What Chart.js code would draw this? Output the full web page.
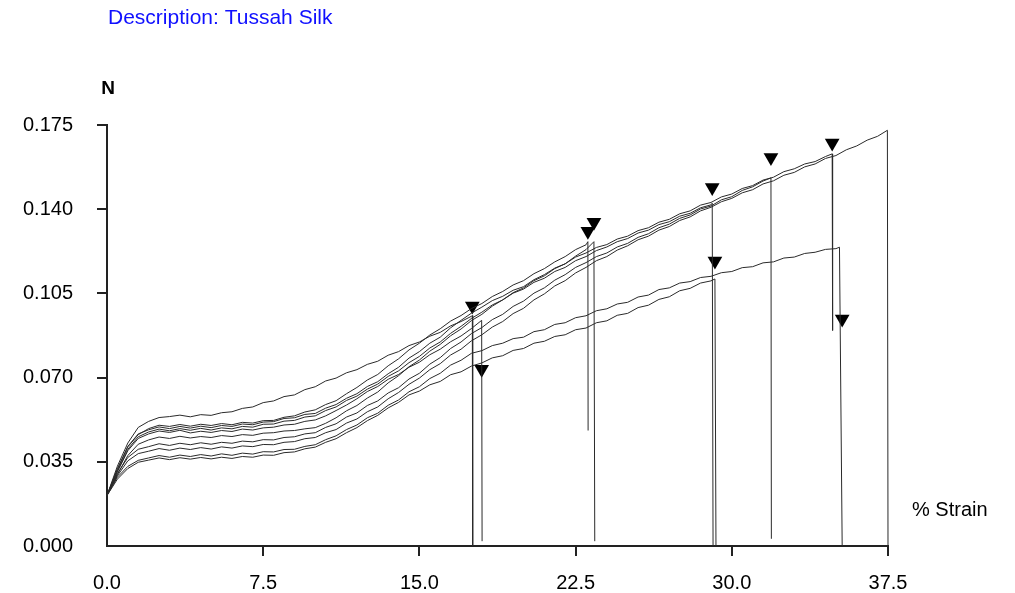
<!DOCTYPE html>
<html><head><meta charset="utf-8">
<script src="https://cdn.jsdelivr.net/npm/chart.js@4/dist/chart.umd.min.js"></script>
<style>html,body{margin:0;padding:0;background:#fff;}#wrap{width:1015px;height:593px;position:relative;}</style>
</head><body><div id="wrap"><canvas id="c" width="1015" height="593"></canvas></div>
<script>
const chartTitle = "Description: Tussah Silk";
const yAxisTitle = "N";
const xAxisTitle = "% Strain";
const xTicks = [0, 7.5, 15, 22.5, 30, 37.5];
const yTicks = [0, 0.035, 0.07, 0.105, 0.14, 0.175];
const gridStep = 0.5; // strain spacing of the sampled readings below

const specimenA = [0.0210,0.0332,0.0428,0.0493,0.0518,0.0534,0.0538,0.0544,0.0537,0.0546,0.0543,0.0554,0.0558,0.0572,0.0578,0.0596,0.0603,0.0621,0.0628,0.0650,0.0662,0.0686,0.0698,0.0720,0.0733,0.0755,0.0768,0.0793,0.0808,0.0833,0.0848,0.0872,0.0888,0.0915,0.0933,0.0955];
const specimenB = [0.0210,0.0308,0.0396,0.0447,0.0466,0.0478,0.0472,0.0481,0.0470,0.0477,0.0472,0.0480,0.0476,0.0486,0.0482,0.0491,0.0494,0.0503,0.0506,0.0518,0.0524,0.0541,0.0563,0.0586,0.0612,0.0642,0.0663,0.0693,0.0713,0.0743,0.0764,0.0795,0.0818,0.0849,0.0873,0.0904];
const specimenC = [0.0210,0.0322,0.0412,0.0463,0.0488,0.0502,0.0497,0.0505,0.0498,0.0506,0.0501,0.0509,0.0504,0.0514,0.0511,0.0521,0.0522,0.0535,0.0541,0.0557,0.0566,0.0588,0.0604,0.0633,0.0659,0.0690,0.0713,0.0749,0.0778,0.0815,0.0843,0.0877,0.0903,0.0935,0.0958,0.0987,0.1008,0.1037,0.1058,0.1085,0.1103,0.1132,0.1153,0.1181,0.1203,0.1232,0.1252];
const specimenD = [0.0210,0.0297,0.0376,0.0423,0.0441,0.0453,0.0447,0.0456,0.0449,0.0455,0.0451,0.0459,0.0455,0.0463,0.0460,0.0469,0.0471,0.0478,0.0480,0.0487,0.0492,0.0510,0.0533,0.0562,0.0584,0.0615,0.0640,0.0678,0.0708,0.0745,0.0773,0.0810,0.0838,0.0874,0.0902,0.0937,0.0963,0.0997,0.1023,0.1053,0.1073,0.1103,0.1123,0.1153,0.1173,0.1205,0.1232];
const specimenE = [0.0210,0.0312,0.0402,0.0454,0.0474,0.0486,0.0479,0.0488,0.0481,0.0489,0.0482,0.0491,0.0487,0.0497,0.0494,0.0506,0.0507,0.0519,0.0522,0.0536,0.0541,0.0563,0.0578,0.0605,0.0623,0.0652,0.0673,0.0705,0.0728,0.0762,0.0788,0.0823,0.0848,0.0884,0.0913,0.0946,0.0972,0.1002,0.1023,0.1051,0.1068,0.1096,0.1113,0.1141,0.1158,0.1186,0.1203,0.1228,0.1243,0.1265,0.1278,0.1301,0.1313,0.1336,0.1348,0.1371,0.1383,0.1406,0.1418];
const specimenF = [0.0210,0.0278,0.0322,0.0348,0.0357,0.0366,0.0359,0.0367,0.0361,0.0368,0.0362,0.0369,0.0364,0.0372,0.0369,0.0378,0.0377,0.0388,0.0391,0.0404,0.0411,0.0431,0.0446,0.0471,0.0492,0.0521,0.0543,0.0574,0.0597,0.0628,0.0644,0.0670,0.0684,0.0712,0.0724,0.0748,0.0761,0.0782,0.0791,0.0813,0.0821,0.0843,0.0851,0.0871,0.0878,0.0899,0.0906,0.0928,0.0936,0.0959,0.0967,0.0991,0.1001,0.1025,0.1036,0.1061,0.1071,0.1093,0.1102];
const specimenG = [0.0210,0.0301,0.0368,0.0402,0.0413,0.0425,0.0418,0.0427,0.0421,0.0429,0.0423,0.0431,0.0427,0.0436,0.0433,0.0442,0.0441,0.0451,0.0454,0.0466,0.0471,0.0493,0.0508,0.0536,0.0553,0.0584,0.0603,0.0636,0.0658,0.0694,0.0718,0.0756,0.0783,0.0821,0.0848,0.0883,0.0908,0.0941,0.0963,0.0996,0.1018,0.1051,0.1073,0.1105,0.1128,0.1158,0.1178,0.1203,0.1218,0.1243,0.1258,0.1283,0.1298,0.1323,0.1338,0.1362,0.1376,0.1401,0.1413,0.1439,0.1452,0.1478,0.1493,0.1517];
const specimenH = [0.0210,0.0318,0.0414,0.0466,0.0483,0.0495,0.0488,0.0497,0.0490,0.0498,0.0492,0.0501,0.0497,0.0507,0.0504,0.0515,0.0517,0.0530,0.0533,0.0547,0.0551,0.0573,0.0588,0.0614,0.0633,0.0663,0.0683,0.0716,0.0743,0.0781,0.0808,0.0843,0.0868,0.0907,0.0938,0.0968,0.0993,0.1020,0.1038,0.1063,0.1078,0.1107,0.1128,0.1155,0.1173,0.1201,0.1218,0.1241,0.1253,0.1276,0.1288,0.1311,0.1323,0.1346,0.1358,0.1381,0.1393,0.1417,0.1428,0.1451,0.1463,0.1486,0.1498,0.1521,0.1533,0.1556,0.1568,0.1588,0.1598,0.1619];
const specimenI = [0.0210,0.0286,0.0331,0.0356,0.0366,0.0376,0.0369,0.0378,0.0372,0.0380,0.0374,0.0383,0.0377,0.0386,0.0382,0.0392,0.0391,0.0401,0.0402,0.0414,0.0421,0.0442,0.0458,0.0484,0.0503,0.0533,0.0552,0.0585,0.0607,0.0641,0.0662,0.0696,0.0718,0.0752,0.0772,0.0801,0.0812,0.0833,0.0843,0.0862,0.0868,0.0891,0.0899,0.0921,0.0928,0.0949,0.0957,0.0978,0.0986,0.1006,0.1013,0.1035,0.1043,0.1066,0.1073,0.1093,0.1099,0.1116,0.1121,0.1136,0.1141,0.1157,0.1161,0.1177,0.1181,0.1197,0.1201,0.1216,0.1221,0.1233,0.1236];
const specimenJ = [0.0210,0.0292,0.0354,0.0384,0.0394,0.0405,0.0398,0.0407,0.0401,0.0409,0.0403,0.0412,0.0407,0.0416,0.0413,0.0422,0.0421,0.0431,0.0434,0.0446,0.0451,0.0471,0.0484,0.0511,0.0528,0.0558,0.0578,0.0612,0.0638,0.0672,0.0698,0.0733,0.0758,0.0794,0.0818,0.0853,0.0878,0.0910,0.0933,0.0966,0.0988,0.1023,0.1048,0.1081,0.1103,0.1135,0.1158,0.1186,0.1203,0.1230,0.1248,0.1273,0.1288,0.1313,0.1328,0.1353,0.1368,0.1393,0.1408,0.1431,0.1445,0.1468,0.1481,0.1505,0.1518,0.1541,0.1553,0.1576,0.1588,0.1611,0.1623,0.1647,0.1663,0.1687,0.1703];

// break (failure) point of each specimen, and where the trace falls to afterwards
const breakStrain = [17.54, 17.99, 23.09, 23.38, 29.06, 29.19, 31.88, 34.82, 35.17, 37.47];
const breakLoad   = [0.0958, 0.0938, 0.1265, 0.1265, 0.1425, 0.1110, 0.1530, 0.1630, 0.1242, 0.1728];
const dropStrain  = [17.56, 18.01, 23.10, 23.42, 29.10, 29.24, 31.90, 34.84, 35.30, 37.50];
const dropLoad    = [0.0000, 0.0020, 0.0480, 0.0020, 0.0000, 0.0000, 0.0030, 0.0896, 0.0000, 0.0000];
// break markers (▼)
const markerStrain = [17.54, 17.99, 23.09, 23.38, 29.06, 29.19, 31.88, 34.82, 35.30, 37.47];
const markerLoad   = [0.0998, 0.0735, 0.1308, 0.1346, 0.1490, 0.1185, 0.1615, 0.1675, 0.0944, 0.1813];

const specimens = [specimenA, specimenB, specimenC, specimenD, specimenE, specimenF, specimenG, specimenH, specimenI, specimenJ];

const FONT = '"Liberation Sans", Arial, sans-serif';
const datasets = specimens.map((arr, k) => {
  const pts = arr.map((y, i) => ({x: i * gridStep, y}));
  pts.push({x: breakStrain[k], y: breakLoad[k]});
  pts.push({x: dropStrain[k], y: dropLoad[k]});
  return {data: pts, showLine: true, borderColor: '#2a2a2a', borderWidth: 1, pointRadius: 0, tension: 0, clip: false};
});
datasets.push({
  data: markerStrain.map((x, i) => ({x, y: markerLoad[i]})),
  showLine: false, pointStyle: 'triangle', rotation: 180, pointRadius: 8.5,
  backgroundColor: '#000', borderColor: '#000', borderWidth: 0, clip: false
});

const textPlugin = {
  id: 'texts',
  afterDraw(chart) {
    const c = chart.ctx;
    c.save();
    c.textBaseline = 'middle';
    c.textAlign = 'left';
    c.fillStyle = '#1010ff';
    c.font = '21px ' + FONT;
    c.fillText(chartTitle, 108, 18);
    c.fillStyle = '#000';
    c.font = 'bold 19px ' + FONT;
    c.textAlign = 'center';
    c.fillText(yAxisTitle, 108, 89);
    c.font = '20px ' + FONT;
    c.textAlign = 'left';
    c.fillText(xAxisTitle, 912, 510);
    c.restore();
  }
};

const tickColor = ctx => (ctx.tick && ctx.tick.value === 0) ? 'rgba(0,0,0,0)' : '#222';

new Chart(document.getElementById('c'), {
  type: 'scatter',
  data: {datasets},
  plugins: [textPlugin],
  options: {
    responsive: false, animation: false, devicePixelRatio: 1,
    layout: {padding: {left: 0, right: 127, top: 125, bottom: 0}},
    plugins: {legend: {display: false}, tooltip: {enabled: false}, title: {display: false}},
    scales: {
      x: {
        type: 'linear', min: 0, max: 37.5,
        afterBuildTicks: s => { s.ticks = xTicks.map(v => ({value: v})); },
        afterFit: s => { s.height = 47; },
        ticks: {callback: v => Number(v).toFixed(1), color: '#000', font: {size: 20, family: FONT}, padding: 15, maxRotation: 0, autoSkip: false},
        grid: {display: true, drawOnChartArea: false, drawTicks: true, tickLength: 10, color: tickColor, lineWidth: 2},
        border: {display: true, color: '#222', width: 2}
      },
      y: {
        type: 'linear', min: 0, max: 0.175,
        afterBuildTicks: s => { s.ticks = yTicks.map(v => ({value: v})); },
        afterFit: s => { s.width = 107; },
        ticks: {callback: v => Number(v).toFixed(3), color: '#000', font: {size: 20, family: FONT}, padding: 24, autoSkip: false},
        grid: {display: true, drawOnChartArea: false, drawTicks: true, tickLength: 10, color: tickColor, lineWidth: 2},
        border: {display: true, color: '#222', width: 2}
      }
    }
  }
});
</script></body></html>
